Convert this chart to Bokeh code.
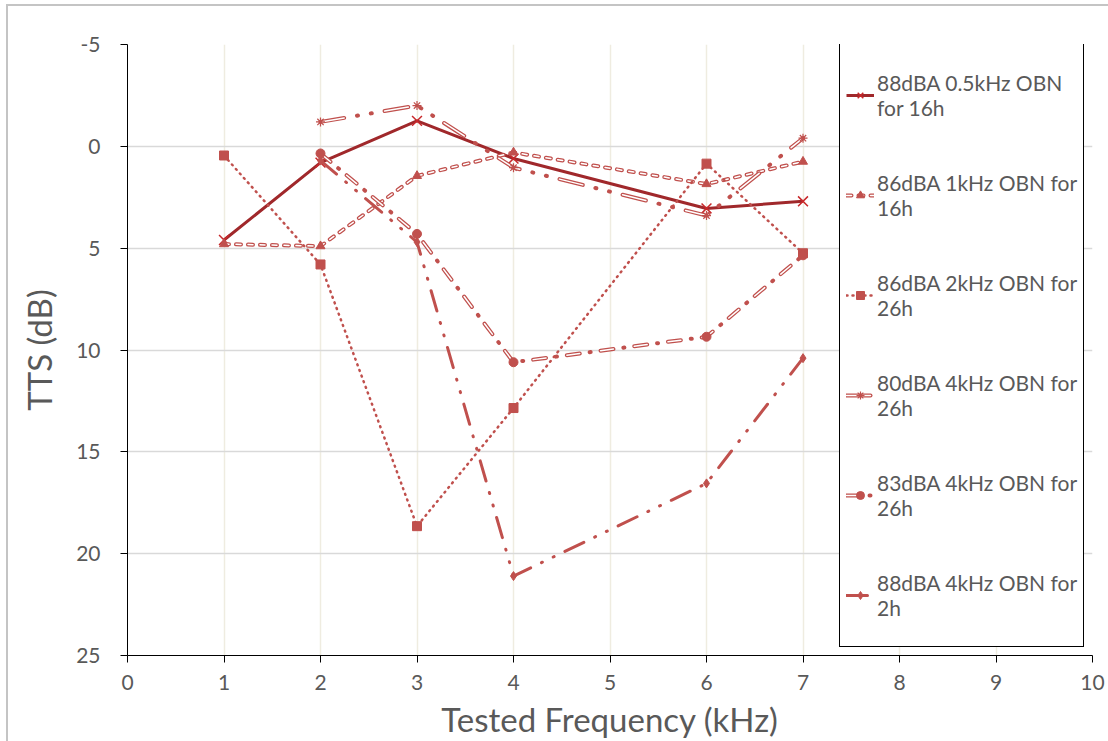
from bokeh.plotting import figure
from bokeh.models import (Range1d, SingleIntervalTicker, Legend, LegendItem, ColumnDataSource,
                          PrintfTickFormatter, InlineStyleSheet)
from bokeh.embed import file_html
from bokeh.resources import INLINE

# ---- data ----
freq_a = [1, 2, 3, 4, 6, 7]
freq_b = [2, 3, 4, 6, 7]
tts_88_05k_16h = [4.6, 0.8, -1.25, 0.6, 3.05, 2.7]
tts_86_1k_16h = [4.8, 4.9, 1.45, 0.3, 1.85, 0.75]
tts_86_2k_26h = [0.45, 5.8, 18.65, 12.85, 0.85, 5.25]
tts_80_4k_26h = [-1.2, -2.0, 1.05, 3.4, -0.4]
tts_83_4k_26h = [0.35, 4.3, 10.6, 9.35, 5.35]
tts_88_4k_2h = [0.7, 4.7, 21.1, 16.55, 10.4]
labels = [
    "88dBA 0.5kHz OBN\nfor 16h",
    "86dBA 1kHz OBN for\n16h",
    "86dBA 2kHz OBN for\n26h",
    "80dBA 4kHz OBN for\n26h",
    "83dBA 4kHz OBN for\n26h",
    "88dBA 4kHz OBN for\n2h",
]

FONT = "Lato"
GREY = "#595959"
DARK = "#A0282B"
RED = "#C0504D"

p = figure(width=1108, height=741, x_range=Range1d(0, 10), y_range=Range1d(25, -5),
           output_backend="svg", toolbar_location=None,
           min_border_left=127, min_border_right=16, min_border_top=44, min_border_bottom=86)
p.outline_line_color = None
p.background_fill_color = "white"
p.stylesheets = [InlineStyleSheet(css=""":host { position: relative; }
:host::after { content: ""; position: absolute; left: 6px; top: 4px; right: 0; bottom: 0;
  border-left: 2px solid #C4C4C4; border-top: 2px solid #C4C4C4; pointer-events: none; }""")]

p.xaxis.ticker = SingleIntervalTicker(interval=1)
p.yaxis.ticker = SingleIntervalTicker(interval=5)
p.yaxis.formatter = PrintfTickFormatter(format="%d")
for ax in (p.xaxis, p.yaxis):
    ax.axis_line_color = "black"
    ax.major_tick_line_color = "black"
    ax.minor_tick_line_color = None
    ax.major_tick_in = 0
    ax.major_tick_out = 7
    ax.major_label_text_font = FONT
    ax.major_label_text_font_size = "21px"
    ax.major_label_text_color = GREY
    ax.axis_label_text_font = FONT
    ax.axis_label_text_font_size = "33px"
    ax.axis_label_text_font_style = "normal"
    ax.axis_label_text_color = GREY
p.xaxis.axis_label = "Tested Frequency (kHz)"
p.yaxis.axis_label = "TTS (dB)"
p.yaxis.major_label_standoff = 20
p.xaxis.major_label_standoff = 12
p.yaxis.axis_label_standoff = 14
p.xaxis.axis_label_standoff = 6

p.ygrid.grid_line_color = "#D9D9D9"
p.ygrid.grid_line_width = 1.5
p.xgrid.grid_line_color = "#EFECE0"
p.xgrid.grid_line_width = 1.5

items = []

# 1: solid dark red, x markers
s = ColumnDataSource(dict(x=freq_a, y=tts_88_05k_16h))
r1 = p.line("x", "y", source=s, line_color=DARK, line_width=3)
m1 = p.scatter("x", "y", source=s, marker="x", size=14, line_color="#C8282A", line_width=1.5)
items.append(LegendItem(label=labels[0], renderers=[r1, m1]))

# 2: outlined dashes, triangles
s = ColumnDataSource(dict(x=freq_a, y=tts_86_1k_16h))
r2a = p.line("x", "y", source=s, line_color=RED, line_width=4, line_dash="5 7", line_cap="round")
r2b = p.line("x", "y", source=s, line_color="white", line_width=1.5, line_dash="5 7", line_cap="round")
m2 = p.scatter("x", "y", source=s, marker="triangle", size=9, fill_color=RED, line_color=RED)
items.append(LegendItem(label=labels[1], renderers=[r2a, r2b, m2]))

# 3: dotted, squares
s = ColumnDataSource(dict(x=freq_a, y=tts_86_2k_26h))
r3 = p.line("x", "y", source=s, line_color=RED, line_width=2.5, line_dash="1 5", line_cap="round")
m3 = p.scatter("x", "y", source=s, marker="square", size=9, fill_color=RED, line_color=RED)
items.append(LegendItem(label=labels[2], renderers=[r3, m3]))

# 4: outlined long dash dot dot, asterisks
s = ColumnDataSource(dict(x=freq_b, y=tts_80_4k_26h))
r4a = p.line("x", "y", source=s, line_color=RED, line_width=4, line_dash="24 13 1 13 1 13", line_cap="round")
r4b = p.line("x", "y", source=s, line_color="white", line_width=1.5, line_dash="24 41", line_cap="round")
m4 = p.scatter("x", "y", source=s, marker="asterisk", size=9, line_color=RED, line_width=1.2)
items.append(LegendItem(label=labels[3], renderers=[r4a, r4b, m4]))

# 5: outlined dash dot, circles
s = ColumnDataSource(dict(x=freq_b, y=tts_83_4k_26h))
r5a = p.line("x", "y", source=s, line_color=RED, line_width=4, line_dash="13 10 1 10", line_cap="round")
r5b = p.line("x", "y", source=s, line_color="white", line_width=1.5, line_dash="13 21", line_cap="round")
m5 = p.scatter("x", "y", source=s, marker="circle", size=9, fill_color=RED, line_color=RED)
items.append(LegendItem(label=labels[4], renderers=[r5a, r5b, m5]))

# 6: long dash dot dot, diamonds
s = ColumnDataSource(dict(x=freq_b, y=tts_88_4k_2h))
r6 = p.line("x", "y", source=s, line_color=RED, line_width=3, line_dash="21 12 1 12 1 12", line_cap="round")
m6 = p.scatter("x", "y", source=s, marker="diamond", size=9, fill_color=RED, line_color=RED)
items.append(LegendItem(label=labels[5], renderers=[r6, m6]))

legend = Legend(items=items, location=(712, 8), orientation="vertical",
                border_line_color="black", border_line_width=1, border_line_alpha=1,
                background_fill_color="white", background_fill_alpha=1,
                padding=6, spacing=10, margin=0,
                glyph_width=28, glyph_height=20, label_standoff=3,
                label_height=90, label_width=194,
                label_text_font=FONT, label_text_font_size="21px", label_text_color=GREY,
                label_text_line_height=1.45)
p.add_layout(legend)

open("out.html", "w").write(file_html(p, INLINE))
